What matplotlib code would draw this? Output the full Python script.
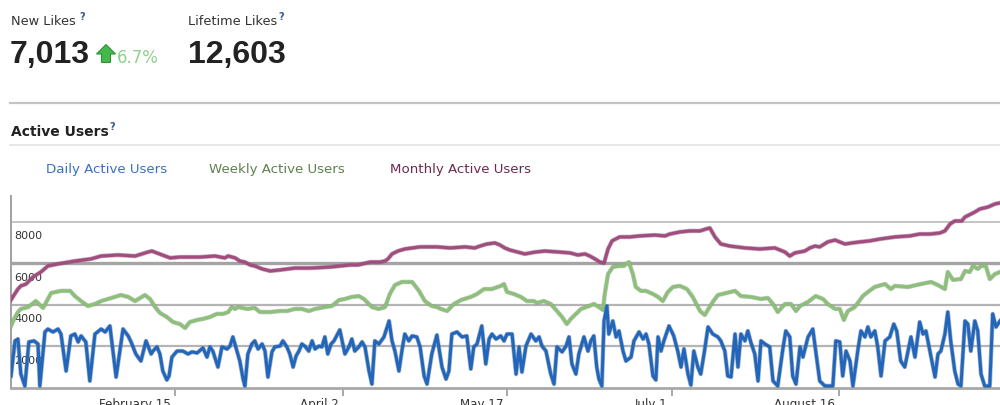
import matplotlib
matplotlib.use("Agg")
import matplotlib.pyplot as plt
from matplotlib.patches import Polygon
from matplotlib.lines import Line2D
from matplotlib.transforms import blended_transform_factory, ScaledTranslation
import matplotlib.patheffects as pe

# ---------------- data ----------------
new_likes = "7,013"
new_likes_change = "6.7%"
lifetime_likes = "12,603"

series_names = ["Daily Active Users", "Weekly Active Users", "Monthly Active Users"]

tick_days = [45, 91, 136, 181, 227]
tick_labels = ["February 15", "April 2", "May 17", "July 1", "August 16"]
y_ticks = [2000, 4000, 6000, 8000]

# (day index from Jan 1, value)
monthly = [(0, 4250), (1.9, 4770), (2.7, 4920), (4.1, 5010), (6.0, 5350), (8.2, 5590), (10.1, 5880),
           (12.9, 5980), (17.5, 6120), (21.9, 6220), (24.7, 6360), (29.3, 6410), (34.0, 6360), (37.5, 6550),
           (38.6, 6600), (42.2, 6360), (43.6, 6270), (46.3, 6310), (51.8, 6310), (55.9, 6360), (58.6, 6270),
           (59.5, 6360), (61.4, 6270), (62.7, 6120), (64.1, 6070), (65.5, 5930), (66.8, 5880), (68.8, 5740),
           (71.0, 5640), (73.7, 5690), (77.8, 5780), (81.9, 5780), (87.4, 5830), (92.9, 5930), (95.1, 5930),
           (98.4, 6070), (101.1, 6070), (102.5, 6120), (103.3, 6220), (104.4, 6460), (106.0, 6600),
           (107.9, 6700), (112.1, 6800), (116.7, 6800), (120.3, 6750), (124.4, 6800), (127.1, 6750),
           (128.5, 6840), (130.4, 6940), (132.6, 6990), (134.0, 6890), (135.3, 6750), (136.7, 6650),
           (140.8, 6460), (143.6, 6550), (146.3, 6600), (150.4, 6550), (153.2, 6510), (155.3, 6410),
           (157.3, 6460), (158.6, 6360), (160.0, 6220), (161.4, 6070), (162.5, 6020), (163.6, 6700),
           (164.7, 7090), (166.8, 7280), (169.6, 7280), (172.3, 7330), (176.4, 7370), (179.2, 7330),
           (180.5, 7420), (183.3, 7520), (186.0, 7570), (188.8, 7570), (190.4, 7660), (191.5, 7710),
           (192.9, 7280), (194.5, 6940), (197.0, 6840), (201.1, 6750), (205.2, 6700), (209.3, 6750),
           (210.7, 6650), (212.1, 6550), (213.4, 6360), (214.8, 6510), (217.5, 6600), (218.9, 6750),
           (220.3, 6840), (221.6, 6800), (223.8, 7040), (225.8, 7130), (228.5, 6940), (230.4, 6990),
           (232.6, 7040), (235.3, 7090), (238.1, 7180), (242.2, 7280), (246.3, 7330), (249.0, 7420),
           (251.8, 7420), (254.5, 7470), (255.9, 7570), (257.3, 7900), (258.6, 8050), (260.5, 8050),
           (261.4, 8240), (264.1, 8480), (265.5, 8630), (267.7, 8720), (269.6, 8870), (271.0, 8920)]

weekly = [(0, 2990), (1.1, 3420), (1.9, 3660), (2.7, 3810), (4.7, 3900), (6.8, 4190), (8.8, 3860),
          (11.0, 4580), (13.7, 4680), (16.2, 4680), (17.5, 4430), (19.2, 4190), (21.1, 3950), (23.0, 4050),
          (24.7, 4190), (26.6, 4290), (30.1, 4480), (32.1, 4390), (34.0, 4190), (36.7, 4480), (38.1, 4290),
          (39.5, 3900), (40.8, 3620), (42.7, 3420), (44.4, 3180), (46.3, 3080), (47.7, 2890), (49.0, 3180),
          (51.0, 3280), (52.6, 3330), (54.5, 3420), (56.4, 3570), (58.1, 3570), (59.5, 3660), (60.5, 3900),
          (61.4, 3810), (62.2, 3900), (64.7, 3810), (66.8, 3860), (68.2, 3660), (71.0, 3660), (73.7, 3710),
          (75.6, 3710), (77.8, 3810), (79.7, 3810), (81.6, 3710), (83.3, 3810), (86.0, 3900), (87.9, 3950),
          (89.9, 4240), (91.5, 4290), (93.4, 4390), (95.3, 4430), (96.7, 4290), (98.9, 3900), (100.8, 3810),
          (102.5, 3900), (103.8, 4530), (105.2, 4960), (107.1, 5110), (109.9, 5110), (111.8, 4680),
          (113.4, 4190), (115.3, 3950), (116.7, 3900), (117.8, 3810), (119.5, 3710), (121.4, 4050),
          (123.3, 4240), (126.0, 4390), (127.7, 4530), (129.6, 4770), (131.8, 4770), (134.2, 4920),
          (135.1, 5010), (135.9, 4630), (137.8, 4530), (139.7, 4390), (141.4, 4190), (143.3, 4190),
          (144.1, 4100), (146.0, 4190), (147.9, 4050), (149.6, 3710), (151.0, 3420), (152.3, 3080),
          (153.4, 3330), (155.6, 3710), (156.2, 3810), (158.4, 3950), (159.7, 4050), (161.1, 3900),
          (162.2, 3760), (162.7, 4530), (163.6, 5490), (164.9, 5830), (166.6, 5880), (167.9, 5880),
          (169.3, 6070), (170.4, 5490), (171.2, 4870), (172.6, 4680), (174.0, 4680), (175.9, 4530),
          (177.3, 4390), (178.6, 4190), (180.0, 4630), (181.4, 4870), (183.3, 4920), (185.2, 4770),
          (186.8, 4390), (188.8, 3710), (190.1, 3520), (192.3, 4150), (193.7, 4480), (197.3, 4630),
          (198.4, 4680), (200.0, 4430), (202.7, 4390), (205.5, 4290), (207.4, 4340), (208.8, 4050),
          (210.1, 3660), (212.1, 4050), (213.7, 4050), (215.1, 3710), (216.2, 3950), (218.4, 4150),
          (220.5, 4430), (222.5, 4290), (223.8, 4050), (225.8, 3810), (227.1, 3810), (228.2, 3280),
          (229.3, 3710), (231.2, 3900), (233.4, 4430), (234.8, 4630), (236.7, 4870), (239.5, 5010),
          (241.1, 4770), (242.2, 4920), (245.8, 4870), (249.3, 5010), (252.1, 5110), (254.0, 4960),
          (255.9, 4770), (256.7, 5590), (258.1, 5210), (260.3, 5250), (261.4, 5640), (262.7, 5590),
          (263.6, 5880), (264.9, 5740), (265.8, 5880), (267.1, 5880), (268.2, 5250), (269.6, 5490),
          (271.0, 5590)]

daily = [(0, 580), (1.1, 2270), (1.9, 2360), (2.7, 670), (3.8, 100), (4.9, 2220), (6.3, 2270), (7.4, 2120),
         (7.9, 100), (9.3, 2700), (10.1, 2840), (11.5, 2700), (12.9, 2840), (13.7, 2600), (15.1, 820),
         (16.4, 2510), (17.5, 2600), (18.4, 2220), (19.2, 2510), (20.5, 2220), (21.6, 340), (23.0, 2600),
         (24.7, 2840), (25.8, 2700), (27.1, 2990), (28.8, 530), (30.7, 2840), (32.1, 2510), (32.9, 2220),
         (34.2, 1640), (35.6, 1300), (37.0, 2270), (38.4, 1640), (38.9, 1780), (40.0, 1980), (40.8, 1640),
         (41.6, 820), (42.7, 390), (43.3, 580), (44.1, 1490), (45.5, 1780), (47.1, 1780), (48.5, 1640),
         (49.6, 1740), (51.0, 1690), (52.6, 1930), (53.7, 1490), (54.5, 1980), (55.3, 1780), (56.7, 1010),
         (57.8, 1980), (59.2, 1880), (60.0, 2020), (60.8, 2460), (61.9, 1780), (62.7, 1300), (63.6, 430),
         (64.1, 100), (64.9, 1640), (66.0, 2120), (66.8, 2270), (67.7, 1880), (68.8, 2120), (69.6, 1780),
         (70.4, 530), (71.5, 1740), (72.3, 1980), (73.7, 2020), (74.5, 2270), (75.6, 1980), (76.4, 1640),
         (77.3, 1010), (78.1, 1540), (78.9, 1780), (79.7, 2120), (80.5, 2020), (81.6, 1780), (82.5, 2270),
         (83.3, 1880), (84.4, 2020), (85.2, 1980), (86.0, 2460), (86.8, 1640), (87.7, 2120), (88.5, 2270),
         (90.1, 2800), (91.5, 1640), (92.6, 1980), (93.4, 2360), (94.2, 1780), (95.3, 1980), (96.2, 2220),
         (97.0, 1980), (98.1, 820), (98.9, 190), (99.7, 2270), (100.8, 2120), (102.2, 2460), (103.6, 3230),
         (104.4, 2270), (105.2, 1780), (106.3, 820), (107.1, 1780), (107.9, 2600), (109.0, 2270),
         (109.9, 2510), (111.2, 2460), (112.1, 1980), (113.2, 580), (114.0, 190), (115.3, 1640),
         (116.7, 2550), (118.1, 1010), (119.2, 430), (120.0, 820), (120.8, 2600), (122.2, 2700),
         (123.6, 2460), (124.9, 2510), (126.0, 920), (126.8, 1980), (127.7, 2120), (129.0, 2990),
         (130.1, 1160), (131.0, 2360), (131.8, 2600), (132.9, 2360), (134.2, 2510), (135.1, 2270),
         (135.9, 2600), (137.3, 2600), (138.4, 670), (139.2, 1980), (140.0, 770), (141.1, 2020),
         (142.5, 2600), (143.8, 2270), (144.7, 2460), (145.5, 2020), (146.6, 1780), (147.9, 670),
         (148.8, 190), (149.6, 1980), (151.0, 1740), (152.1, 2020), (152.9, 2460), (153.7, 1160),
         (154.8, 670), (155.6, 1640), (157.0, 2460), (158.1, 1780), (158.9, 2270), (159.7, 2510),
         (160.5, 1010), (161.1, 430), (161.9, 100), (162.5, 3230), (163.3, 3950), (163.8, 2600),
         (164.9, 3230), (165.8, 2460), (166.6, 2750), (167.7, 1780), (168.5, 1300), (169.9, 1490),
         (170.7, 2270), (172.1, 2700), (173.2, 2360), (174.0, 2600), (174.8, 2120), (175.9, 580),
         (176.7, 390), (177.3, 2460), (178.1, 1780), (178.9, 2270), (180.3, 2990), (181.6, 2510),
         (182.7, 1780), (183.6, 1010), (184.4, 1880), (185.5, 670), (186.3, 140), (187.1, 1780),
         (188.2, 1010), (189.0, 670), (189.9, 1640), (191.0, 2940), (192.3, 2600), (193.7, 2460),
         (194.5, 2270), (195.6, 1780), (196.4, 580), (197.3, 530), (198.4, 2600), (199.2, 1010),
         (200.0, 2600), (201.1, 2270), (201.9, 2750), (202.7, 2220), (203.8, 1640), (204.7, 340),
         (205.5, 2270), (206.6, 2120), (207.9, 1980), (208.8, 340), (210.1, 100), (211.5, 1880),
         (212.3, 2750), (213.4, 2460), (214.2, 580), (215.1, 190), (216.2, 1980), (217.0, 1490),
         (218.4, 2460), (219.7, 2840), (220.5, 1780), (221.6, 340), (223.0, 100), (225.2, 100),
         (226.0, 2270), (227.1, 2220), (227.9, 580), (228.8, 1780), (229.9, 1300), (230.7, 100),
         (232.1, 1880), (232.9, 2750), (234.0, 2460), (234.8, 2940), (235.6, 2460), (236.7, 2750),
         (237.5, 1980), (238.4, 580), (239.5, 2270), (240.8, 2460), (241.9, 3080), (242.7, 2750),
         (243.8, 1300), (244.9, 1010), (245.8, 1780), (246.6, 2460), (247.7, 1490), (249.0, 3180),
         (249.9, 2600), (250.7, 2750), (251.8, 1780), (253.2, 530), (254.0, 1640), (254.8, 1780),
         (255.9, 2600), (256.7, 3660), (257.5, 2270), (258.6, 820), (259.5, 190), (260.3, 100),
         (261.4, 3230), (262.2, 3080), (263.0, 1780), (264.1, 3230), (264.9, 2750), (265.8, 670),
         (266.8, 100), (268.2, 100), (269.0, 3570), (269.9, 2940), (271.0, 3230)]

# ---------------- layout helpers ----------------
W, H = 1000, 406
fig = plt.figure(figsize=(W / 100, H / 100), dpi=100)
fig.patch.set_facecolor("white")


def fx(px):
    return px / W


def fy(py):
    return 1 - py / H


# ---------------- header ----------------
txt_color = "#333333"
q_color = "#3b5998"
num_font = "Liberation Sans"

fig.text(fx(11), fy(25), "New Likes", fontsize=9.3, color=txt_color, va="baseline", family="DejaVu Sans")
fig.text(fx(79), fy(20), "?", fontsize=7, color=q_color, weight="bold", va="baseline")
fig.text(fx(188), fy(25), "Lifetime Likes", fontsize=9.3, color=txt_color, va="baseline", family="DejaVu Sans")
fig.text(fx(278), fy(20), "?", fontsize=7, color=q_color, weight="bold", va="baseline")

fig.text(fx(10), fy(63), new_likes, fontsize=23, weight="bold", family=num_font, color="#222222", va="baseline")
fig.text(fx(188), fy(63), lifetime_likes, fontsize=23, weight="bold", family=num_font, color="#222222",
         va="baseline")

arrow_px = [(106, 45.5), (115.5, 55), (110.5, 55), (110.5, 63.5), (101.5, 63.5), (101.5, 55), (96.5, 55)]
fig.add_artist(Polygon([(fx(a), fy(b)) for a, b in arrow_px], closed=True, transform=fig.transFigure,
                       facecolor="#45b84c", edgecolor="#2f8f3a", lw=0.8))
fig.text(fx(117), fy(63), new_likes_change, fontsize=12, color="#8fd08f", va="baseline", family="DejaVu Sans")

fig.add_artist(Line2D([fx(10), 1], [fy(104), fy(104)], color="#c4c4c4", lw=1.6, transform=fig.transFigure))
fig.text(fx(11), fy(136), "Active Users", fontsize=10, weight="bold", color="#222222", va="baseline",
         family="DejaVu Sans")
fig.text(fx(109), fy(130), "?", fontsize=7, color=q_color, weight="bold", va="baseline")
fig.add_artist(Line2D([fx(10), 1], [fy(146), fy(146)], color="#e3e3e3", lw=1.2, transform=fig.transFigure))

legend_colors = ["#3a6fc4", "#5f8050", "#6e2a4e"]
legend_x = [46, 209, 390]
for name, c, x in zip(series_names, legend_colors, legend_x):
    fig.text(fx(x), fy(173), name, fontsize=9.6, color=c, va="baseline", family="DejaVu Sans")

# ---------------- chart ----------------
ax = fig.add_axes([fx(11), fy(389), fx(989), (389 - 197) / H])
ax.set_facecolor("none")
ax.set_xlim(0, 271)
ax.set_ylim(0, 9253)

for s in ["top", "right"]:
    ax.spines[s].set_visible(False)
ax.spines["left"].set_color("#a0a0a0")
ax.spines["left"].set_linewidth(1.4)
ax.spines["bottom"].set_color("#a8a8a8")
ax.spines["bottom"].set_linewidth(2.0)

grid_widths = {2000: 1.6, 4000: 1.6, 6000: 2.4, 8000: 1.3}
grid_colors = {2000: "#b4b4b4", 4000: "#b4b4b4", 6000: "#a4a4a4", 8000: "#c0c0c0"}
for v in y_ticks:
    ax.axhline(v, color=grid_colors[v], lw=grid_widths[v], zorder=1)

ytrans = blended_transform_factory(ax.transAxes, ax.transData) + \
    ScaledTranslation(3 / 100, -13.5 / 100, fig.dpi_scale_trans)
for v in y_ticks:
    ax.text(0, v, str(v), transform=ytrans, ha="left", va="center", fontsize=8, color="#333333",
            zorder=2, family="DejaVu Sans")

ax.set_yticks([])
ax.set_xticks(tick_days)
ax.set_xticklabels(tick_labels)
ax.tick_params(axis="x", direction="out", length=6, width=1.2, color="#999999", pad=0.5,
               labelsize=8.6, labelcolor="#333333")
shift = ScaledTranslation(-4 / 100, 0, fig.dpi_scale_trans)
for lab in ax.get_xticklabels():
    lab.set_horizontalalignment("right")
    lab.set_transform(lab.get_transform() + shift)

line_specs = [
    (monthly, "#a24b7f", "#8a5a78"),
    (weekly, "#8cc07a", "#7f9a74"),
    (daily, "#2266bb", "#5b7aa0"),
]
for data, col, edge in line_specs:
    xs = [p[0] for p in data]
    ys = [p[1] for p in data]
    ax.plot(xs, ys, color=col, lw=2.2, zorder=4, solid_joinstyle="round", clip_on=True,
            path_effects=[pe.Stroke(linewidth=3.2, foreground=edge, alpha=0.55), pe.Normal()])

fig.savefig("out.png", dpi=100, facecolor="white")
